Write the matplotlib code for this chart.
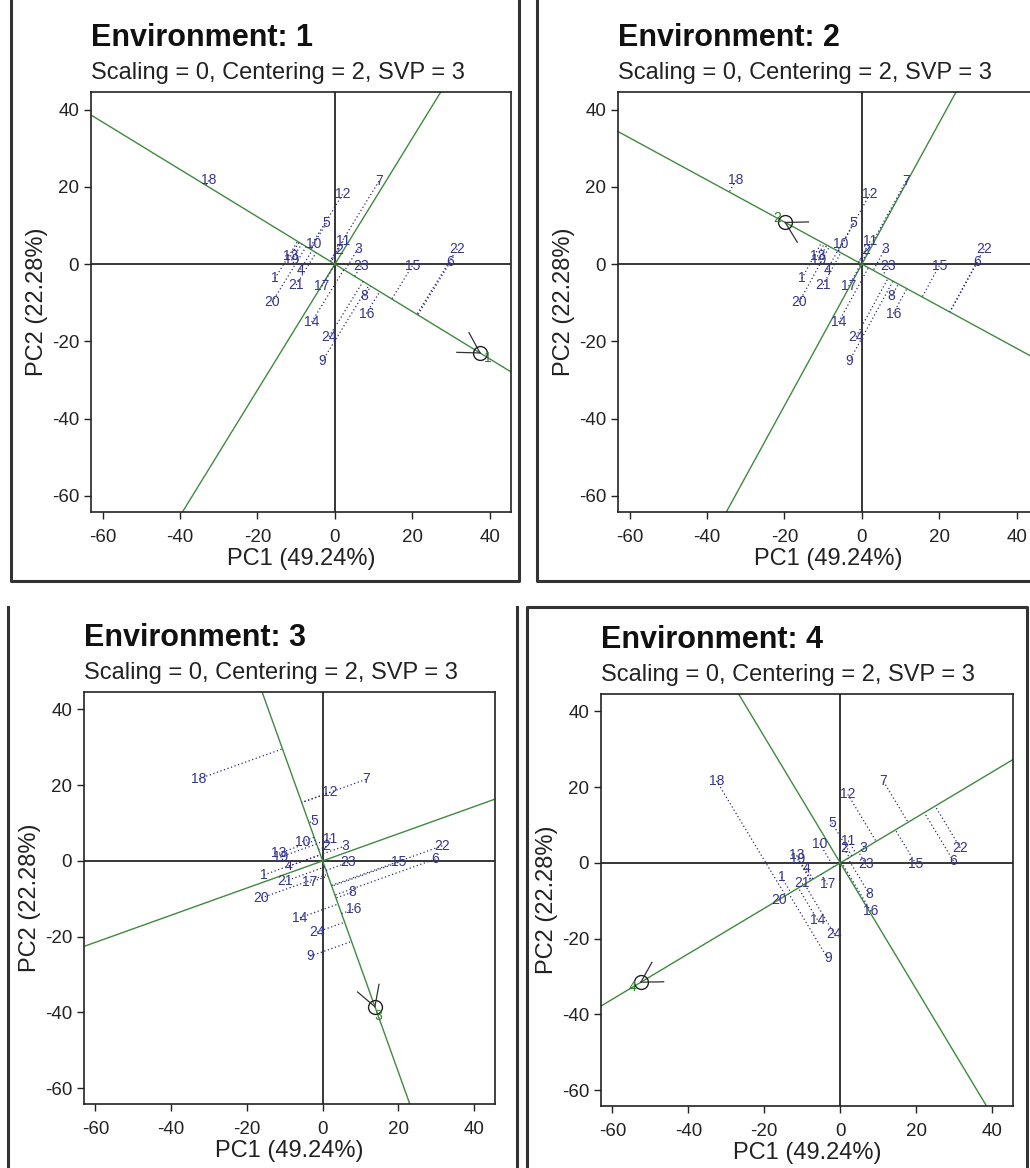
"""GGE biplot: ranking of 24 genotypes in each of four environments."""
import numpy as np
import matplotlib
matplotlib.use("Agg")
from matplotlib import pyplot as plt
from matplotlib.lines import Line2D

plt.rcParams["font.family"] = ["Liberation Sans", "DejaVu Sans"]
plt.rcParams["axes.unicode_minus"] = False

# genotype scores (PC1, PC2)
genotypes = [str(i) for i in range(1, 25)]
pc1 = [-15.5, 1.0, 6.0, -8.9, -2.2, 29.8, 11.4, 7.7, -3.3, -5.4, 2.1, 2.0,
       -11.5, -6.0, 20.0, 8.1, -3.4, -32.6, -11.2, -16.2, -10.0, 31.6, 6.8, -1.5]
pc2 = [-3.7, 3.8, 4.0, -1.4, 10.6, 0.5, 21.5, -8.3, -25.2, 5.1, 5.9, 18.1,
       2.0, -15.0, -0.4, -12.8, -5.7, 21.7, 1.0, -9.8, -5.4, 4.0, -0.4, -18.8]

# environment markers
env_names = ["1", "2", "3", "4"]
env_pc1 = [37.5, -19.8, 13.8, -52.5]
env_pc2 = [-23.0, 10.8, -38.5, -31.5]

subtitle = "Scaling = 0, Centering = 2, SVP = 3"
x_label = "PC1 (49.24%)"
y_label = "PC2 (22.28%)"
ticks = [-60, -40, -20, 0, 20, 40]

W, H = 1030, 1168
fig = plt.figure(figsize=(W / 100, H / 100), dpi=100)
fig.patch.set_facecolor("white")

# axes boxes in pixels: left, top, right, bottom
boxes = [(91, 92, 511, 512), (618, 92, 1038, 512),
         (84, 692, 495, 1104), (601, 694, 1013, 1106)]
# screenshot frames in pixels
frames = [[(11, 0), (11, 581), (519, 581), (519, 0)],
          [(537, 0), (537, 581), (1032, 581)],
          [(8, 1168), (8, 607)],
          [(527, 1168), (527, 607), (1027, 607), (1027, 1168)]]
frame_right3 = [(517, 607), (517, 1168)]

lab_col = "#35358c"
green = "#3f8a3f"

gx = np.array(pc1)
gy = np.array(pc2)

for k in range(4):
    L, T, R, B = boxes[k]
    ax = fig.add_axes([L / W, 1 - B / H, (R - L) / W, (B - T) / H])
    ax.set_xlim(-63.0, 45.5)
    ax.set_ylim(-64.2, 44.6)
    ax.set_xticks(ticks)
    ax.set_yticks(ticks)
    ax.tick_params(direction="out", length=5, width=1, labelsize=13.5,
                   colors="#222222")
    ax.tick_params(axis="x", pad=7)
    for s in ax.spines.values():
        s.set_linewidth(1.2)
        s.set_color("#222222")
    ax.set_xlabel(x_label, fontsize=17, labelpad=2, color="#222222")
    ax.set_ylabel(y_label, fontsize=17, labelpad=3, color="#222222")

    ax.axhline(0, color="black", lw=1.1, zorder=1)
    ax.axvline(0, color="black", lw=1.1, zorder=1)

    ex, ey = env_pc1[k], env_pc2[k]
    ax.axline((0, 0), (ex, ey), color=green, lw=1.0, zorder=2)
    ax.axline((0, 0), (-ey, ex), color=green, lw=1.0, zorder=2)

    # projections of genotypes on the environment axis
    d = np.array([ex, ey]) / np.hypot(ex, ey)
    t = gx * d[0] + gy * d[1]
    for i in range(len(genotypes)):
        ax.plot([gx[i], t[i] * d[0]], [gy[i], t[i] * d[1]], ls=(0, (1, 2)),
                color="#2a2a80", lw=0.9, zorder=3)
        ax.text(gx[i], gy[i], genotypes[i], ha="center", va="center",
                fontsize=10, color=lab_col, zorder=4)

    # environment marker with arrow head
    a = np.arctan2(-ey, -ex)
    for b in (a + np.pi / 6, a - np.pi / 6):
        ax.plot([ex, ex + 6 * np.cos(b)], [ey, ey + 6 * np.sin(b)],
                color="#333333", lw=0.9, zorder=5)
    ax.plot(ex, ey, "o", mfc="none", mec="#222222", ms=10, mew=1.0, zorder=6)
    ax.text(ex + 2.5 * d[0], ey + 2.5 * d[1], env_names[k], ha="center",
            va="center", fontsize=10, color="#2e7d2e", zorder=6)

    fig.text(L / W, 1 - (T - 46) / H, f"Environment: {env_names[k]}",
             fontsize=22, fontweight="bold", va="baseline", color="#111111")
    fig.text(L / W, 1 - (T - 13) / H, subtitle, fontsize=17, va="baseline",
             color="#222222")

for pts in frames + [frame_right3]:
    xs = [p[0] / W for p in pts]
    ys = [1 - p[1] / H for p in pts]
    fig.add_artist(Line2D(xs, ys, color="#333333", lw=2.2,
                          transform=fig.transFigure))

fig.savefig("out.png", dpi=100)
